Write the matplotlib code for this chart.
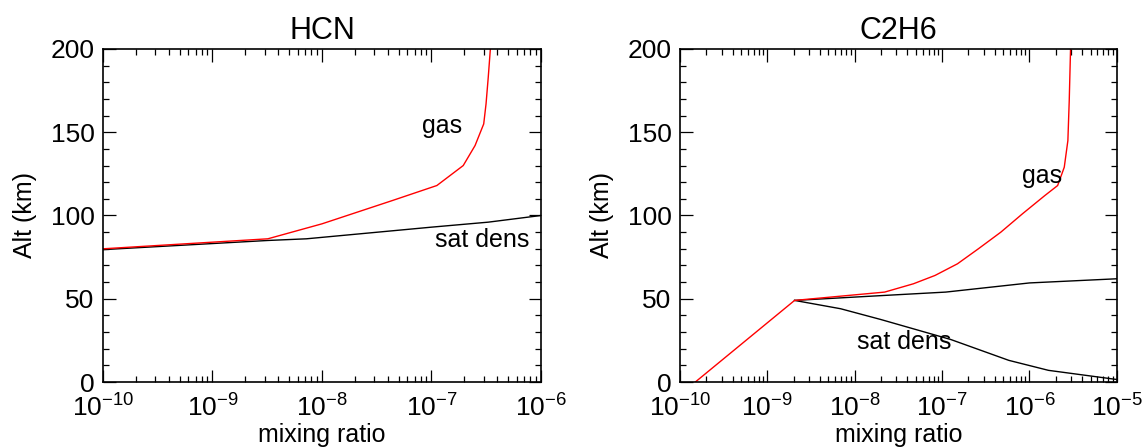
import matplotlib.pyplot as plt
import numpy as np
from matplotlib.ticker import LogLocator, MultipleLocator, LogFormatterMathtext

plt.rcParams['font.family'] = ['Liberation Sans', 'DejaVu Sans']
plt.rcParams['mathtext.fontset'] = 'custom'
plt.rcParams['mathtext.rm'] = 'Liberation Sans'
plt.rcParams['mathtext.it'] = 'Liberation Sans'

# HCN profiles (mixing ratio, altitude km)
hcn_gas_x = [1e-10, 3.2e-9, 1.0e-8, 4.4e-8, 1.12e-7, 1.95e-7, 2.5e-7, 3.0e-7, 3.15e-7, 3.3e-7, 3.45e-7]
hcn_gas_y = [80, 86, 95, 109, 118, 130, 142, 155, 167, 183, 200]
hcn_sat_x = [1e-10, 3.2e-9, 7.2e-9, 1.0e-7, 3.3e-7, 1e-6]
hcn_sat_y = [79.5, 85, 86, 93, 96, 100]

# C2H6 profiles
c2h6_gas_x = [1.5e-10, 2.05e-9, 2.2e-8, 4.7e-8, 8.3e-8, 1.5e-7, 2.6e-7, 4.7e-7,
              8.3e-7, 1.5e-6, 2.1e-6, 2.5e-6, 2.75e-6, 2.85e-6, 2.95e-6]
c2h6_gas_y = [0, 49, 54, 59, 64, 71, 80, 90, 101, 112, 118, 129, 145, 169, 200]
c2h6_sat_up_x = [2.05e-9, 2.2e-8, 1.1e-7, 1.0e-6, 1e-5]
c2h6_sat_up_y = [49, 52, 54, 59.5, 62]
c2h6_sat_lo_x = [2.05e-9, 6.9e-9, 2.0e-8, 1.26e-7, 5.8e-7, 1.65e-6, 1e-5]
c2h6_sat_lo_y = [49, 44, 37.5, 25.5, 13, 7, 1.5]

fig = plt.figure(figsize=(11.42, 4.47), dpi=100)
ax1 = fig.add_axes([0.0902, 0.1454, 0.3835, 0.745])
ax2 = fig.add_axes([0.5954, 0.1454, 0.3826, 0.745])

for ax in (ax1, ax2):
    ax.set_xscale('log')
    ax.set_ylim(0, 200)
    ax.yaxis.set_major_locator(MultipleLocator(50))
    ax.yaxis.set_minor_locator(MultipleLocator(10))
    ax.xaxis.set_major_locator(LogLocator(base=10, numticks=20))
    ax.xaxis.set_minor_locator(LogLocator(base=10, subs=np.arange(2, 10), numticks=20))
    ax.xaxis.set_major_formatter(LogFormatterMathtext())
    ax.tick_params(which='both', direction='in', top=True, right=True, width=0.9)
    ax.tick_params(which='major', length=9, labelsize=19)
    ax.tick_params(which='minor', length=4.5)
    ax.tick_params(axis='x', pad=9)
    ax.tick_params(axis='y', pad=6)
    for s in ax.spines.values():
        s.set_linewidth(1.2)
    ax.set_xlabel('mixing ratio', fontsize=18, labelpad=1)
    ax.set_ylabel('Alt (km)', fontsize=18, labelpad=10)

ax1.set_xlim(1e-10, 1e-6)
ax1.plot(hcn_sat_x, hcn_sat_y, color='black', lw=1)
ax1.plot(hcn_gas_x, hcn_gas_y, color='red', lw=1)
ax1.text(1.25e-7, 154, 'gas', fontsize=18, ha='center', va='center')
ax1.text(2.9e-7, 85, 'sat dens', fontsize=18, ha='center', va='center')
ax1.set_title('HCN', fontsize=22, pad=7)

ax2.set_xlim(1e-10, 1e-5)
ax2.plot(c2h6_sat_up_x, c2h6_sat_up_y, color='black', lw=1)
ax2.plot(c2h6_sat_lo_x, c2h6_sat_lo_y, color='black', lw=1)
ax2.plot(c2h6_gas_x, c2h6_gas_y, color='red', lw=1)
ax2.text(1.4e-6, 124, 'gas', fontsize=18, ha='center', va='center')
ax2.text(3.7e-8, 24, 'sat dens', fontsize=18, ha='center', va='center')
ax2.set_title('C2H6', fontsize=22, pad=7)

fig.savefig('out.png', dpi=100)
